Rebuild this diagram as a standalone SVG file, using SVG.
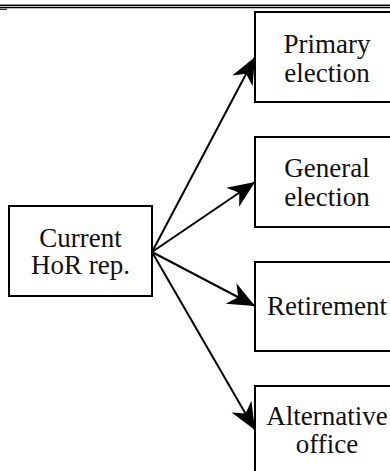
<svg xmlns="http://www.w3.org/2000/svg" width="390" height="471" viewBox="0 0 390 471">
  <style>
    .box { fill: #fff; stroke: #000; stroke-width: 2; }
    .lbl { font-family: "Liberation Serif", "Times New Roman", serif; font-size: 27px; fill: #111; text-anchor: middle; }
    .conn { stroke: #000; stroke-width: 2; fill: none; marker-end: url(#ah); }
  </style>
  <defs>
    <marker id="ah" viewBox="-28 -13 30 26" refX="0" refY="0" markerWidth="30" markerHeight="26" markerUnits="userSpaceOnUse" orient="auto">
      <path d="M0,0 L-27,-11.5 L-19,0 L-27,11.5 Z" fill="#000"/>
    </marker>
  </defs>
  <rect width="390" height="471" fill="#fff"/>
  <g id="header-rule">
    <line x1="0" y1="5.4" x2="390" y2="5.4" stroke="#000" stroke-width="1.7"/>
    <line x1="0" y1="7.6" x2="390" y2="7.6" stroke="#000" stroke-width="1.2"/>
    <line x1="0" y1="9.3" x2="7" y2="9.3" stroke="#000" stroke-width="1"/>
  </g>
  <g id="connectors">
    <line class="conn" x1="152" y1="252" x2="255" y2="57"/>
    <line class="conn" x1="152" y1="252" x2="255" y2="182"/>
    <line class="conn" x1="152" y1="252" x2="255" y2="306"/>
    <line class="conn" x1="152" y1="252" x2="255" y2="430"/>
  </g>
  <g id="current">
    <rect class="box" x="9" y="206" width="143" height="90"/>
    <text class="lbl" x="80.5" y="246.5">Current</text>
    <text class="lbl" x="80.5" y="274">HoR rep.</text>
  </g>
  <g id="primary">
    <rect class="box" x="255" y="12" width="150" height="90"/>
    <text class="lbl" x="327" y="53">Primary</text>
    <text class="lbl" x="327" y="81.5">election</text>
  </g>
  <g id="general">
    <rect class="box" x="255" y="137" width="150" height="90"/>
    <text class="lbl" x="327" y="176.5">General</text>
    <text class="lbl" x="327" y="205.5">election</text>
  </g>
  <g id="retirement">
    <rect class="box" x="255" y="262" width="150" height="89"/>
    <text class="lbl" x="327" y="315">Retirement</text>
  </g>
  <g id="alternative">
    <rect class="box" x="255" y="386" width="150" height="90"/>
    <text class="lbl" x="327" y="425">Alternative</text>
    <text class="lbl" x="327" y="453">office</text>
  </g>
</svg>
